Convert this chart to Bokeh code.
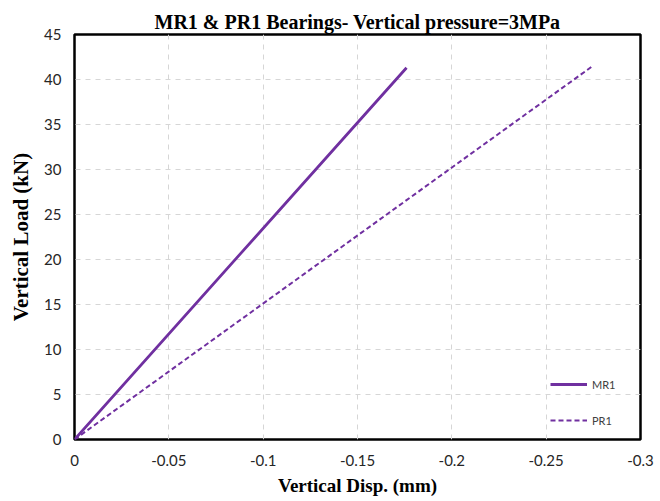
from bokeh.plotting import figure
from bokeh.models import Range1d, FixedTicker, Legend, LegendItem
from bokeh.embed import file_html
from bokeh.resources import INLINE

# Data
mr1_disp = [0.0, -0.088, -0.176]
mr1_load = [0.0, 20.65, 41.3]
pr1_disp = [0.0, -0.137, -0.274]
pr1_load = [0.0, 20.7, 41.4]

x_ticks = [0, -0.05, -0.1, -0.15, -0.2, -0.25, -0.3]
x_tick_labels = ["0", "-0.05", "-0.1", "-0.15", "-0.2", "-0.25", "-0.3"]
y_ticks = [0, 5, 10, 15, 20, 25, 30, 35, 40, 45]

title_text = "MR1 & PR1 Bearings- Vertical pressure=3MPa"
x_label_text = "Vertical Disp. (mm)"
y_label_text = "Vertical Load (kN)"

PURPLE = "#7030A0"
W, H = 656, 498
BL, BR, BT, BB = 74, 16, 34, 58

p = figure(width=W, height=H, output_backend="svg", toolbar_location=None,
           x_range=Range1d(0, -0.3), y_range=Range1d(0, 45),
           min_border_left=BL, min_border_right=BR, min_border_top=BT, min_border_bottom=BB)

p.title.text = title_text
p.title.align = "center"
p.title.text_font = "Liberation Serif"
p.title.text_font_size = "20px"
p.title.text_font_style = "bold"
p.title.text_color = "#000000"
p.title.standoff = 3

p.outline_line_color = "black"
p.outline_line_width = 2.5
p.outline_line_alpha = 1

for ax in (p.xaxis[0], p.yaxis[0]):
    ax.axis_line_color = None
    ax.major_tick_line_color = None
    ax.minor_tick_line_color = None
    ax.major_tick_out = 0
    ax.major_tick_in = 0
    ax.minor_tick_out = 0
    ax.minor_tick_in = 0
    ax.major_label_text_font = "Lato"
    ax.major_label_text_font_size = "15px"
    ax.major_label_text_color = "#262626"
    ax.axis_label_text_font = "Liberation Serif"
    ax.axis_label_text_font_style = "bold"
    ax.axis_label_text_color = "#000000"

p.xaxis.ticker = FixedTicker(ticks=x_ticks)
p.xaxis.major_label_overrides = {t: l for t, l in zip(x_ticks, x_tick_labels)}
p.xaxis.major_label_standoff = 15
p.xaxis.axis_label = x_label_text
p.xaxis.axis_label_text_font_size = "19px"
p.xaxis.axis_label_standoff = 6

p.yaxis.ticker = FixedTicker(ticks=y_ticks)
p.yaxis.major_label_standoff = 13
p.yaxis.axis_label = y_label_text
p.yaxis.axis_label_text_font_size = "21px"
p.yaxis.axis_label_standoff = 8

p.xgrid.ticker = FixedTicker(ticks=x_ticks)
p.ygrid.ticker = FixedTicker(ticks=y_ticks)
for g in (p.xgrid[0], p.ygrid[0]):
    g.grid_line_color = "#d6d6d6"
    g.grid_line_dash = "5 5"
    g.grid_line_width = 1

r1 = p.line(mr1_disp, mr1_load, line_color=PURPLE, line_width=2.8)
r2 = p.line(pr1_disp, pr1_load, line_color=PURPLE, line_width=2, line_dash="5 3")

legend = Legend(items=[LegendItem(label="MR1", renderers=[r1]),
                       LegendItem(label="PR1", renderers=[r2])],
                location=(476, 9))
legend.border_line_color = None
legend.background_fill_alpha = 0
legend.label_text_font = "Lato"
legend.label_text_font_size = "11px"
legend.label_text_color = "#404040"
legend.glyph_width = 37
legend.glyph_height = 20
legend.spacing = 16
legend.label_standoff = 5
legend.padding = 4
p.add_layout(legend, "center")

open("out.html", "w").write(file_html(p, INLINE))
